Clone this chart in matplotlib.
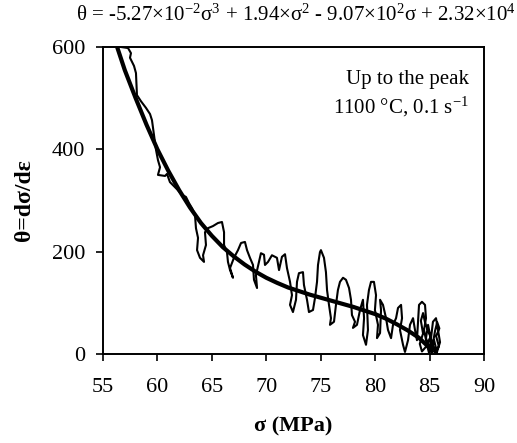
import matplotlib
matplotlib.use("Agg")
import matplotlib.pyplot as plt

plt.rcParams['font.family'] = ['Liberation Serif', 'DejaVu Serif']
plt.rcParams['mathtext.fontset'] = 'custom'
plt.rcParams['mathtext.rm'] = 'Liberation Serif'
plt.rcParams['mathtext.it'] = 'Liberation Serif'

# measured (noisy) work hardening rate vs stress
sigma_data = [56.65, 57.30, 57.57, 57.48, 57.85, 58.03, 58.12, 58.49, 58.95, 59.32,
              59.50, 59.68, 59.87, 60.05, 60.24, 60.05, 60.70, 60.88, 61.15, 61.89,
              62.26, 62.62, 62.90, 63.18, 63.45, 63.54, 63.73, 63.64, 63.91, 64.28,
              64.19, 64.46, 64.37, 64.65, 65.10, 65.56, 65.93, 66.12, 66.12, 66.39,
              66.48, 66.67, 66.94, 66.67, 67.03, 67.40, 67.68, 68.04, 68.23, 68.50,
              68.78, 68.87, 69.15, 69.05, 69.33, 69.51, 69.79, 69.88, 70.16, 70.52,
              70.98, 71.17, 71.44, 71.72, 71.90, 72.18, 72.36, 72.18, 72.45, 72.73,
              72.82, 73.00, 73.37, 73.46, 73.74, 73.92, 74.29, 74.47, 74.66, 74.75,
              74.93, 75.02, 75.30, 75.48, 75.58, 75.76, 75.94, 75.85, 76.22, 76.40,
              76.58, 76.77, 77.05, 77.32, 77.60, 77.78, 77.87, 78.15, 77.96, 78.33,
              78.61, 78.88, 78.98, 78.88, 79.16, 79.34, 79.25, 79.43, 79.62, 79.89,
              80.08, 79.98, 80.26, 80.17, 80.45, 80.54, 80.45, 80.72, 81.00, 81.18,
              81.46, 81.64, 81.92, 82.10, 82.38, 82.47, 82.28, 82.56, 82.74, 83.02,
              83.20, 83.48, 83.66, 83.84, 83.94, 84.03, 84.30, 84.58, 84.67, 84.49,
              84.76, 84.95, 85.13, 85.31, 85.59, 85.77, 85.96, 85.68, 85.41, 85.22,
              85.04, 84.86, 84.67, 85.04, 85.30, 85.50, 85.70, 85.90, 85.60, 85.85,
              85.50, 85.20, 84.90, 84.60, 84.40, 84.20, 84.40, 84.10, 84.30, 84.70,
              85.00, 85.40, 85.70]
theta_data = [600, 598, 588, 579, 563, 549, 506, 494, 481, 469,
              457, 428, 399, 379, 365, 350, 348, 352, 336, 320,
              311, 307, 295, 285, 272, 246, 227, 203, 188, 180,
              193, 213, 238, 246, 250, 256, 258, 238, 213, 199,
              180, 164, 149, 168, 188, 203, 217, 219, 203, 188,
              174, 145, 129, 154, 180, 197, 194, 174, 180, 193,
              188, 164, 190, 195, 168, 141, 115, 96, 82, 106,
              141, 158, 160, 135, 106, 82, 86, 109, 141, 174,
              199, 203, 188, 160, 125, 96, 70, 57, 63, 96,
              125, 141, 149, 145, 129, 106, 76, 63, 51, 57,
              86, 106, 70, 37, 18, 47, 96, 125, 141, 141,
              115, 86, 57, 31, 41, 86, 106, 96, 70, 47,
              31, 57, 70, 90, 96, 70, 47, 18, 4, 27,
              57, 70, 47, 27, 63, 96, 102, 96, 70, 47,
              18, 2, 31, 63, 70, 47, 23, 4, 27, 8,
              37, 57, 31, 8, 20, 45, 62, 50, 35, 15,
              3, 25, 45, 60, 80, 65, 40, 20, 5, 15,
              30, 10, 0]

# polynomial fit curve
sigma_fit = [56.3, 57, 58, 59, 60, 61, 62, 63, 64, 65, 66, 67, 68, 69, 70, 71,
             72, 73, 74, 75, 76, 77, 78, 79, 80, 81, 82, 83, 84, 85, 85.3]
theta_fit = [600, 555, 500, 448, 400, 358, 320, 286, 256, 231, 209, 191, 175, 161,
             149, 139, 130, 123, 116, 110, 104, 98, 92, 85, 78, 69, 58, 46, 32, 12, 2]

fig = plt.figure(figsize=(5.17, 4.43), dpi=100)
ax = fig.add_axes([0.1992, 0.2009, 0.7370, 0.6930])

ax.plot(sigma_data, theta_data, color='black', lw=1.5)
ax.plot(sigma_fit, theta_fit, color='black', lw=3, solid_capstyle='butt')

ax.set_xlim(55, 90)
ax.set_ylim(0, 600)
ax.set_xticks([55, 60, 65, 70, 75, 80, 85, 90])
ax.set_yticks([0, 200, 400, 600])
ax.tick_params(axis='x', direction='out', length=5, width=1.2, labelsize=16, pad=12)
ax.tick_params(axis='y', direction='out', length=5, width=1.2, labelsize=16, pad=8)
for s in ax.spines.values():
    s.set_linewidth(1.4)

ax.set_xlabel('σ (MPa)', fontsize=16, fontweight='bold', labelpad=14)
ax.set_ylabel('θ=dσ/dε', fontsize=17, fontweight='bold', labelpad=12)

fig.text(0.573, 0.965,
         'θ = -5.27×10$^{-2}$σ$^{3}$ + 1.94×σ$^{2}$ - 9.07×10$^{2}$σ + 2.32×10$^{4}$',
         ha='center', va='center', fontsize=15)

ax.text(0.96, 0.895, 'Up to the peak', transform=ax.transAxes,
        ha='right', va='center', fontsize=15)
ax.text(0.96, 0.805, '1100 °C, 0.1 s$^{-1}$', transform=ax.transAxes,
        ha='right', va='center', fontsize=15)

fig.savefig('out.png', dpi=100)
